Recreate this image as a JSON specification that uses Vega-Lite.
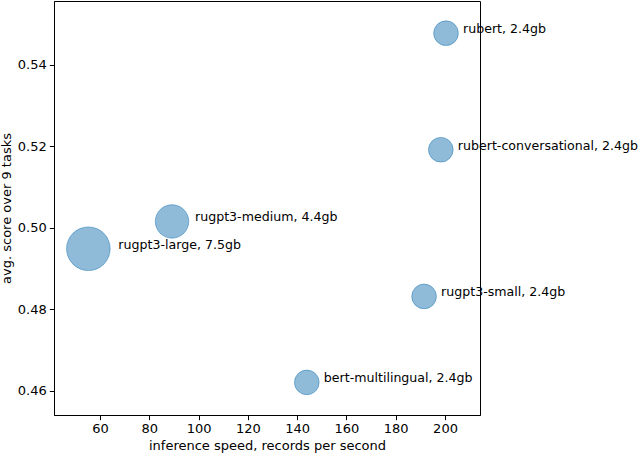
{
  "$schema": "https://vega.github.io/schema/vega-lite/v6.json",
  "width": 426,
  "height": 414,
  "autosize": {"type": "none"},
  "padding": {"left": 54, "top": 1, "right": 160, "bottom": 38},
  "background": "white",
  "config": {
    "font": "DejaVu Sans",
    "view": {"stroke": "#000", "strokeWidth": 1},
    "axis": {
      "grid": false,
      "domainColor": "#000",
      "tickColor": "#000",
      "tickSize": 4.7,
      "labelFont": "DejaVu Sans",
      "labelFontSize": 13,
      "labelColor": "#000",
      "titleFont": "DejaVu Sans",
      "titleFontSize": 13,
      "titleFontWeight": "normal",
      "titleColor": "#000"
    }
  },
  "data": {
    "values": [
      {"model": "rubert", "speed": 200.4, "score": 0.5478, "gb": 2.4, "label": "rubert, 2.4gb"},
      {"model": "rubert-conversational", "speed": 198.3, "score": 0.5192, "gb": 2.4, "label": "rubert-conversational, 2.4gb"},
      {"model": "rugpt3-small", "speed": 191.5, "score": 0.4832, "gb": 2.4, "label": "rugpt3-small, 2.4gb"},
      {"model": "bert-multilingual", "speed": 143.9, "score": 0.4621, "gb": 2.4, "label": "bert-multilingual, 2.4gb"},
      {"model": "rugpt3-medium", "speed": 89.2, "score": 0.5016, "gb": 4.4, "label": "rugpt3-medium, 4.4gb"},
      {"model": "rugpt3-large", "speed": 55.25, "score": 0.4949, "gb": 7.5, "label": "rugpt3-large, 7.5gb"}
    ]
  },
  "encoding": {
    "x": {
      "field": "speed",
      "type": "quantitative",
      "scale": {"domain": [41.3, 214.2], "nice": false, "zero": false},
      "axis": {"values": [60, 80, 100, 120, 140, 160, 180, 200], "title": "inference speed, records per second", "labelPadding": 3, "titlePadding": 4}
    },
    "y": {
      "field": "score",
      "type": "quantitative",
      "scale": {"domain": [0.4541, 0.5557], "nice": false, "zero": false},
      "axis": {"values": [0.46, 0.48, 0.5, 0.52, 0.54], "format": ".2f", "title": "avg. score over 9 tasks", "labelPadding": 3, "titlePadding": 4}
    }
  },
  "layer": [
    {
      "mark": {"type": "circle", "fill": "#1f77b4", "fillOpacity": 0.5, "stroke": "#1f77b4", "strokeOpacity": 0.5, "strokeWidth": 1, "clip": false},
      "encoding": {
        "size": {"field": "gb", "type": "quantitative", "scale": {"type": "linear", "domain": [0, 7.5], "range": [0, 1900]}, "legend": null}
      }
    },
    {
      "transform": [{"filter": "datum.gb < 3"}],
      "mark": {"type": "text", "align": "left", "baseline": "middle", "dx": 17, "dy": -4, "fontSize": 12.6, "color": "#000"},
      "encoding": {"text": {"field": "label"}}
    },
    {
      "transform": [{"filter": "datum.gb > 3 && datum.gb < 5"}],
      "mark": {"type": "text", "align": "left", "baseline": "middle", "dx": 23, "dy": -4, "fontSize": 12.6, "color": "#000"},
      "encoding": {"text": {"field": "label"}}
    },
    {
      "transform": [{"filter": "datum.gb > 5"}],
      "mark": {"type": "text", "align": "left", "baseline": "middle", "dx": 30, "dy": -4, "fontSize": 12.6, "color": "#000"},
      "encoding": {"text": {"field": "label"}}
    }
  ]
}
